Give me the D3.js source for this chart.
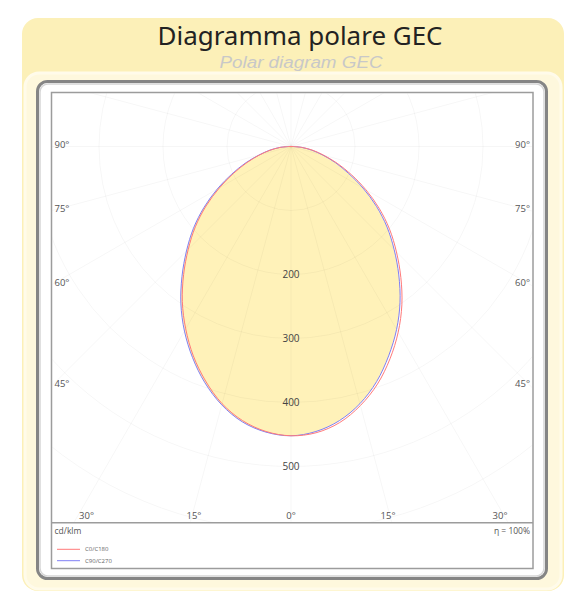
<!DOCTYPE html>
<html>
<head>
<meta charset="utf-8">
<script src="https://cdn.jsdelivr.net/npm/d3@7"></script>
<style>
  body { margin: 0; background: #ffffff; }
  svg { display: block; }
</style>
</head>
<body>
<div id="chart"></div>
<script>
// polar angles (degrees from nadir) and luminous intensity in cd/klm
var angles = [0, 5, 10, 15, 20, 25, 30, 35, 40, 45, 50, 55, 60, 65, 70, 75, 80, 85, 90];
var c0   = [452, 449, 438, 419, 395, 366, 335, 302, 267, 233, 201, 168, 135, 104, 77, 53, 35, 18, 4];
var c180 = [452, 447, 435, 416, 390, 361, 329, 296, 261, 227, 195, 162, 129, 99, 73, 51, 33, 17, 4];
var c90  = [452, 447, 435, 416, 391, 361, 330, 297, 262, 228, 196, 163, 130, 99, 74, 51, 33, 17, 4];
var c270 = [452, 448, 437, 418, 393, 364, 333, 300, 265, 231, 199, 166, 133, 102, 76, 52, 34, 18, 4];

var ringValues = [100, 200, 300, 400, 500, 600];
var ringLabels = [200, 300, 400, 500];
var sideAngles = [90, 75, 60, 45];
var bottomAngles = [-30, -15, 0, 15, 30];

var seriesNames = ["C0/C180", "C90/C270"];
var seriesColors = ["#ff7a7a", "#7f7ff5"];

var W = 573, H = 596;

var svg = d3.select("#chart").append("svg")
    .attr("width", W)
    .attr("height", H);

// panels
svg.append("rect")
    .attr("x", 22).attr("y", 18)
    .attr("width", 542).attr("height", 573)
    .attr("rx", 16)
    .attr("fill", "#fcf0b8");

svg.append("rect")
    .attr("x", 25).attr("y", 73)
    .attr("width", 536).attr("height", 516)
    .attr("rx", 14)
    .attr("fill", "#fef8dd")
    .attr("stroke", "#fffbea")
    .attr("stroke-width", 3);

svg.append("text")
    .attr("x", 300).attr("y", 45)
    .attr("text-anchor", "middle")
    .attr("font-family", "'Noto Sans', sans-serif")
    .attr("font-size", 25)
    .attr("fill", "#222")
    .attr("textLength", 285)
    .attr("lengthAdjust", "spacingAndGlyphs")
    .text("Diagramma polare GEC");

svg.append("text")
    .attr("x", 301).attr("y", 68)
    .attr("text-anchor", "middle")
    .attr("font-family", "'Liberation Sans', sans-serif")
    .attr("font-style", "italic")
    .attr("font-size", 16)
    .attr("fill", "#c8c8c8")
    .attr("textLength", 163)
    .attr("lengthAdjust", "spacingAndGlyphs")
    .text("Polar diagram GEC");

// frame
svg.append("rect")
    .attr("x", 37.5).attr("y", 81.5)
    .attr("width", 509).attr("height", 497)
    .attr("rx", 10)
    .attr("fill", "#ffffff")
    .attr("stroke", "#858585")
    .attr("stroke-width", 3);

svg.append("rect")
    .attr("x", 40).attr("y", 84)
    .attr("width", 504).attr("height", 492)
    .attr("rx", 8)
    .attr("fill", "none")
    .attr("stroke", "#d6d6d6")
    .attr("stroke-width", 1.5);

var plot = { left: 51.5, top: 92.5, right: 533, bottom: 522.7, legendBottom: 568.5 };

svg.append("rect")
    .attr("x", plot.left).attr("y", plot.top)
    .attr("width", plot.right - plot.left)
    .attr("height", plot.legendBottom - plot.top)
    .attr("fill", "#ffffff")
    .attr("stroke", "#9c9c9c")
    .attr("stroke-width", 1.5);

svg.append("line")
    .attr("x1", plot.left).attr("x2", plot.right)
    .attr("y1", plot.bottom).attr("y2", plot.bottom)
    .attr("stroke", "#9c9c9c")
    .attr("stroke-width", 1.5);

// polar scale
var cx = 291, cy = 146.5;
var r = d3.scaleLinear().domain([0, 100]).range([0, 64]);

svg.append("clipPath").attr("id", "plotClip")
    .append("rect")
    .attr("x", plot.left + 1).attr("y", plot.top + 1)
    .attr("width", plot.right - plot.left - 2)
    .attr("height", plot.bottom - plot.top - 2);

var g = svg.append("g")
    .attr("clip-path", "url(#plotClip)")
    .append("g")
    .attr("transform", "translate(" + cx + "," + cy + ")");

// build the outline: left half (negative angles) then right half
function outline(leftVals, rightVals) {
    var pts = [];
    for (var i = angles.length - 1; i >= 0; i--) {
        pts.push([-angles[i], leftVals[i]]);
    }
    for (var j = 1; j < angles.length; j++) {
        pts.push([angles[j], rightVals[j]]);
    }
    return pts;
}

var line = d3.line()
    .x(function(d) { return r(d[1]) * Math.sin(d[0] * Math.PI / 180); })
    .y(function(d) { return r(d[1]) * Math.cos(d[0] * Math.PI / 180); })
    .curve(d3.curveCatmullRom);

var redPts = outline(c180, c0);
var bluePts = outline(c270, c90);

g.append("path")
    .attr("d", line(bluePts) + "Z")
    .attr("fill", "#fff2b9")
    .attr("stroke", "none");

// very faint grid on top of the fill
var grid = g.append("g")
    .attr("stroke", "#000")
    .attr("stroke-opacity", 0.035)
    .attr("fill", "none");

grid.selectAll(".ring")
    .data(ringValues)
    .enter().append("circle")
    .attr("class", "ring")
    .attr("r", function(d) { return r(d); });

grid.selectAll(".spoke")
    .data(d3.range(0, 360, 15))
    .enter().append("line")
    .attr("class", "spoke")
    .attr("x1", 0).attr("y1", 0)
    .attr("x2", function(d) { return r(700) * Math.sin(d * Math.PI / 180); })
    .attr("y2", function(d) { return r(700) * Math.cos(d * Math.PI / 180); });

g.append("path")
    .attr("d", line(bluePts) + "Z")
    .attr("fill", "none")
    .attr("stroke", seriesColors[1])
    .attr("stroke-width", 1);

g.append("path")
    .attr("d", line(redPts) + "Z")
    .attr("fill", "none")
    .attr("stroke", seriesColors[0])
    .attr("stroke-width", 1);

// ring labels along the nadir
svg.selectAll(".ringLabel")
    .data(ringLabels)
    .enter().append("text")
    .attr("x", cx)
    .attr("y", function(d) { return cy + r(d) + 3.5; })
    .attr("text-anchor", "middle")
    .attr("font-family", "'Open Sans', sans-serif")
    .attr("font-size", 10)
    .attr("fill", "#444")
    .text(function(d) { return d; });

// side angle labels
var lab = svg.append("g")
    .attr("font-family", "'Open Sans', sans-serif")
    .attr("font-size", 9.5)
    .attr("fill", "#555");

sideAngles.forEach(function(a) {
    var dy = a === 90 ? 0 : (cx - plot.left) / Math.tan(a * Math.PI / 180);
    lab.append("text")
        .attr("x", plot.left + 3)
        .attr("y", cy + dy + 1)
        .text(a + "°");
    lab.append("text")
        .attr("x", plot.right - 3)
        .attr("y", cy + dy + 1)
        .attr("text-anchor", "end")
        .text(a + "°");
});

bottomAngles.forEach(function(a) {
    var dx = (plot.bottom - 14 - cy) * Math.tan(a * Math.PI / 180);
    var x = Math.max(plot.left + 35, Math.min(plot.right - 33, cx + dx));
    lab.append("text")
        .attr("x", x)
        .attr("y", plot.bottom - 4)
        .attr("text-anchor", "middle")
        .text(Math.abs(a) + "°");
});

// legend area
lab.append("text")
    .attr("x", plot.left + 3)
    .attr("y", plot.bottom + 11)
    .attr("font-size", 8.5)
    .text("cd/klm");

lab.append("text")
    .attr("x", plot.right - 3)
    .attr("y", plot.bottom + 11)
    .attr("font-size", 8.5)
    .attr("text-anchor", "end")
    .text("η = 100%");

var legend = svg.selectAll(".legend")
    .data(seriesNames)
    .enter().append("g")
    .attr("class", "legend")
    .attr("transform", function(d, i) { return "translate(" + 57 + "," + (549.3 + i * 11.4) + ")"; });

legend.append("line")
    .attr("x1", 0).attr("x2", 23)
    .attr("stroke", function(d, i) { return seriesColors[i]; })
    .attr("stroke-width", 1);

legend.append("text")
    .attr("x", 28)
    .attr("y", 2)
    .attr("font-family", "'Open Sans', sans-serif")
    .attr("font-size", 6)
    .attr("fill", "#666")
    .text(function(d) { return d; });
</script>
</body>
</html>
